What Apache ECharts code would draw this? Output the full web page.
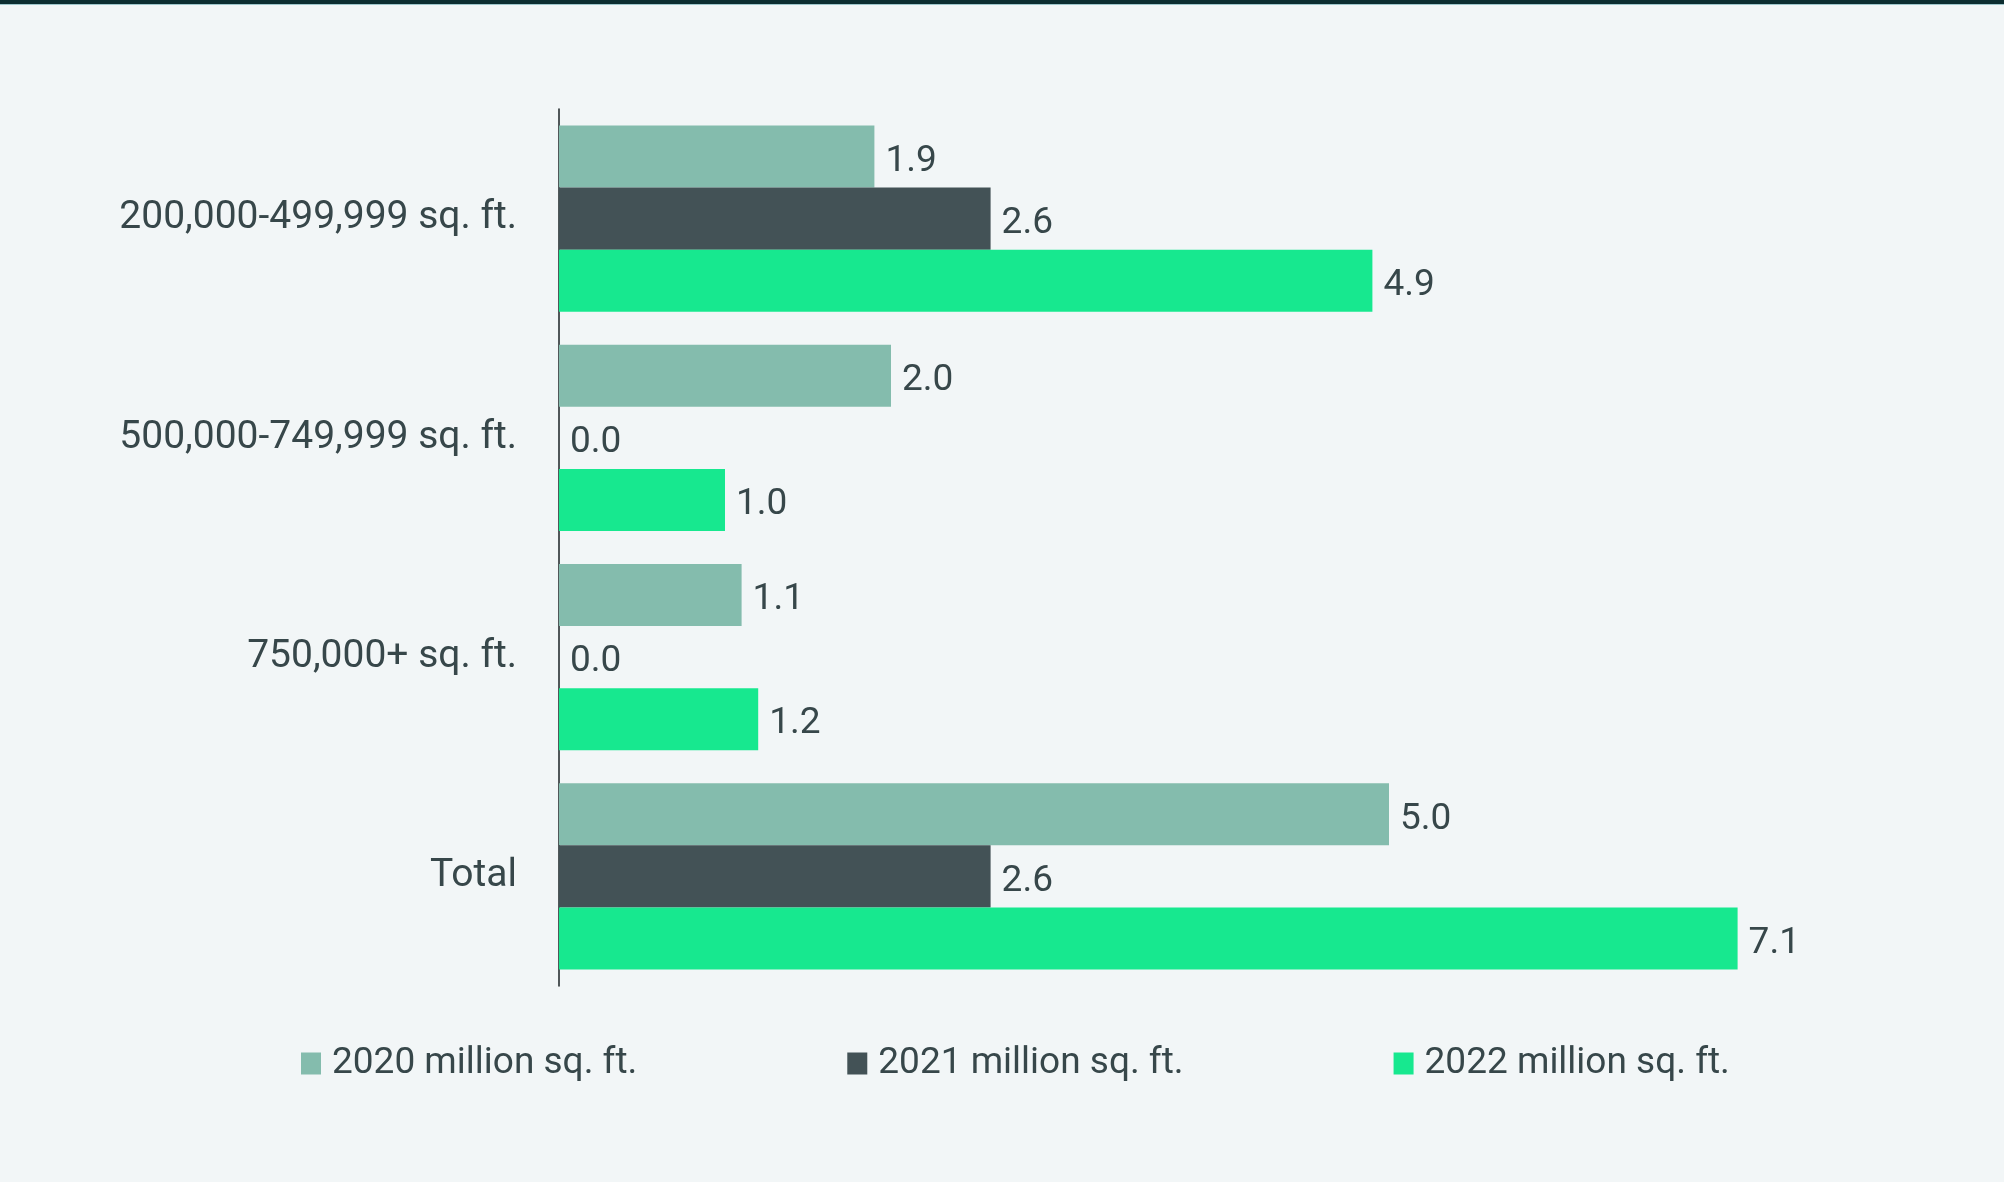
<!DOCTYPE html>
<html>
<head>
<meta charset="utf-8">
<script src="https://cdn.jsdelivr.net/npm/echarts@6/dist/echarts.min.js"></script>
<style>
html,body{margin:0;padding:0;background:#f2f6f7;}
#c{width:2004px;height:1182px;}
</style>
</head>
<body>
<div id="c"></div>
<script>
const categories = ['200,000-499,999 sq. ft.', '500,000-749,999 sq. ft.', '750,000+ sq. ft.', 'Total'];
const seriesNames = ['2020 million sq. ft.', '2021 million sq. ft.', '2022 million sq. ft.'];
const values2020 = [1.9, 2.0, 1.1, 5.0];
const values2021 = [2.6, 0.0, 0.0, 2.6];
const values2022 = [4.9, 1.0, 1.2, 7.1];
const colors = ['#84bcad', '#435256', '#17e88f'];
const textColor = '#37474a';
const fontFamily = 'Roboto, "Noto Sans", sans-serif';

const chart = echarts.init(document.getElementById('c'));
const allValues = [values2020, values2021, values2022];
chart.setOption({
  backgroundColor: '#f2f6f7',
  animation: false,
  graphic: [
    { type: 'rect', shape: { x: 0, y: 0, width: 2004, height: 4 }, style: { fill: '#0d2e31' } },
    { type: 'rect', shape: { x: 0, y: 4, width: 2004, height: 1 }, style: { fill: '#9fc7cc' } }
  ],
  grid: { left: 559, top: 109, width: 1328, height: 877, containLabel: false },
  xAxis: { type: 'value', min: 0, max: 8, show: false },
  yAxis: {
    type: 'category',
    data: categories,
    inverse: true,
    axisLine: { show: true, lineStyle: { color: '#1a2224', width: 1.5 } },
    axisTick: { show: false },
    axisLabel: { color: textColor, fontSize: 39, fontFamily: fontFamily, margin: 42, padding: [10, 0, 0, 0] }
  },
  legend: {
    data: seriesNames,
    left: 296,
    top: 1040,
    icon: 'rect',
    itemWidth: 20,
    itemHeight: 22,
    itemGap: 210,
    textStyle: { color: textColor, fontSize: 37, fontFamily: fontFamily, padding: [0, 0, 0, 6] }
  },
  series: seriesNames.map((name, i) => ({
    name: name,
    type: 'bar',
    data: allValues[i],
    barGap: '0%',
    barCategoryGap: '15%',
    itemStyle: { color: colors[i] },
    label: {
      show: true,
      position: 'right',
      distance: 11,
      offset: [0, 5],
      color: textColor,
      fontSize: 37,
      fontFamily: fontFamily,
      formatter: p => p.value.toFixed(1)
    }
  }))
});
</script>
</body>
</html>
